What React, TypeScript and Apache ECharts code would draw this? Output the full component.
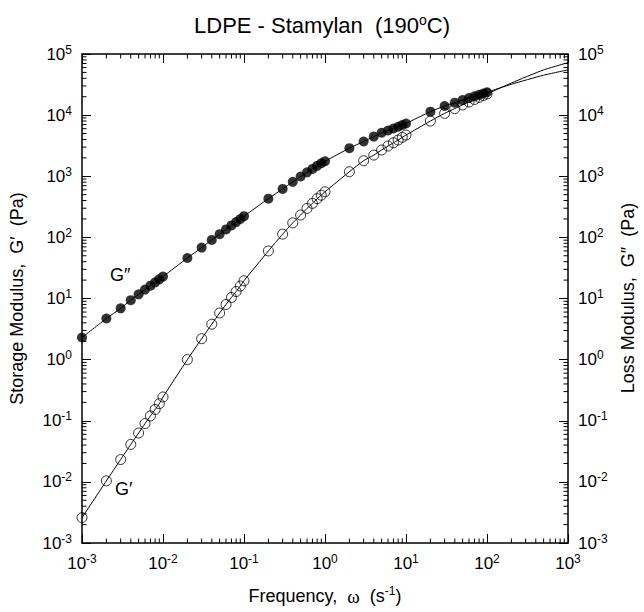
import React, { useEffect, useRef } from 'react';
import * as echarts from 'echarts';

// Frequency, rad/s
const freq = [
  0.001, 0.002, 0.003, 0.004, 0.005, 0.006, 0.007, 0.008, 0.009,
  0.01, 0.02, 0.03, 0.04, 0.05, 0.06, 0.07, 0.08, 0.09,
  0.1, 0.2, 0.3, 0.4, 0.5, 0.6, 0.7, 0.8, 0.9,
  1, 2, 3, 4, 5, 6, 7, 8, 9,
  10, 20, 30, 40, 50, 60, 70, 80, 90,
  100,
];
// Loss modulus G'' (Pa)
const gLoss = [
  2.3, 4.7, 6.9, 9.4, 11.7, 14, 16.2, 18.4, 20.6,
  22.8, 46, 68, 91, 113, 135, 157, 178, 200,
  222, 430, 620, 810, 990, 1160, 1320, 1480, 1630,
  1760, 2880, 3700, 4450, 5150, 5600, 6050, 6450, 6900,
  7300, 11400, 14100, 16000, 17600, 19000, 20300, 21500, 22600,
  23700,
];
// Storage modulus G' (Pa)
const gStor = [
  0.0026, 0.0104, 0.0232, 0.041, 0.063, 0.09, 0.12, 0.153, 0.19,
  0.245, 1.0, 2.2, 3.8, 5.8, 8.0, 10.4, 13, 16,
  19.5, 60, 113, 173, 232, 298, 360, 430, 490,
  557, 1185, 1795, 2220, 2690, 3120, 3530, 3910, 4330,
  4720, 8000, 10700, 12800, 14700, 16400, 18000, 19500, 20900,
  22200,
];
// model curve extension beyond the data
const extFreq = [200, 500, 1000];
const gStorExt = [33500, 55000, 72000];
const gLossExt = [32000, 45000, 55000];

const xTickExps = [-3, -2, -1, 0, 1, 2, 3];
const yTickExps = [-3, -2, -1, 0, 1, 2, 3, 4, 5];
const minorMult = [2, 3, 4, 5, 6, 7, 8, 9];

const FONT = 'Liberation Sans, Arial, sans-serif';

function minorValues(exps: number[]) {
  const out: number[] = [];
  for (let i = 0; i < exps.length - 1; i++) {
    for (const m of minorMult) out.push(m * Math.pow(10, exps[i]));
  }
  return out;
}

const powLabel = (v: number) => {
  const e = Math.round(Math.log10(v));
  return '{b|10}{s|' + e + '}';
};

const labelRich = {
  b: { fontSize: 17, fontFamily: FONT, color: '#000' },
  s: { fontSize: 12, fontFamily: FONT, color: '#000', padding: [0, 0, 9, 0] },
};

export default function App() {
  const ref = useRef<HTMLDivElement>(null);
  useEffect(() => {
    if (!ref.current) return;
    const chart = echarts.init(ref.current, undefined, { renderer: 'svg' });
    const xMinor = minorValues(xTickExps).map((v) => [v, 1]);
    const yMinor = minorValues(yTickExps).map((v) => [1, v]);
    const lineStyle = { color: '#000', width: 1 };
    const axisCommon = {
      type: 'log' as const,
      logBase: 10,
      axisLine: { show: true, lineStyle: { color: '#000', width: 1.5 } },
      axisTick: { show: true, inside: true, length: 9, lineStyle: { color: '#000', width: 1 } },
      splitLine: { show: false },
      minorTick: { show: false },
    };
    const nameFont = { fontSize: 18, fontFamily: FONT, color: '#000' };
    const option: any = {
      animation: false,
      backgroundColor: '#fff',
      title: {
        text: '{a|LDPE - Stamylan  (190}{s|o}{a|C)}',
        left: 'center',
        top: 8,
        textStyle: {
          rich: {
            a: { fontSize: 22, fontWeight: 'normal', fontFamily: FONT, color: '#000' },
            s: { fontSize: 14, fontWeight: 'normal', fontFamily: FONT, color: '#000', padding: [0, 0, 11, 0] },
          },
        },
      },
      grid: { left: 80, right: 76, top: 54, bottom: 69 },
      xAxis: [
        {
          ...axisCommon,
          position: 'bottom',
          min: 0.001,
          max: 1000,
          splitNumber: 6,
          axisLabel: { formatter: powLabel, rich: labelRich, margin: 10 },
          name: '{a|Frequency,  }{w|ω}{a|  (s}{s|-1}{a|)}',
          nameLocation: 'middle',
          nameGap: 42,
          nameTextStyle: {
            rich: {
              a: nameFont,
              w: { fontSize: 19, fontFamily: 'Liberation Serif, serif', color: '#000' },
              s: { fontSize: 12, fontFamily: FONT, color: '#000', padding: [0, 0, 10, 0] },
            },
          },
        },
        {
          ...axisCommon,
          position: 'top',
          min: 0.001,
          max: 1000,
          splitNumber: 6,
          axisLabel: { show: false },
        },
      ],
      yAxis: [
        {
          ...axisCommon,
          position: 'left',
          min: 0.001,
          max: 100000,
          splitNumber: 8,
          axisLabel: { formatter: powLabel, rich: labelRich, margin: 10 },
          name: 'Storage Modulus,  G′  (Pa)',
          nameLocation: 'middle',
          nameGap: 56,
          nameTextStyle: nameFont,
        },
        {
          ...axisCommon,
          position: 'right',
          min: 0.001,
          max: 100000,
          splitNumber: 8,
          axisLabel: { formatter: powLabel, rich: labelRich, margin: 10 },
        },
      ],
      graphic: [
        { type: 'text', left: 110, top: 266, style: { text: 'G″', fontSize: 18, fontFamily: FONT, fill: '#000' } },
        { type: 'text', left: 115, top: 480, style: { text: 'G′', fontSize: 18, fontFamily: FONT, fill: '#000' } },
        {
          type: 'text',
          x: 628,
          y: 298,
          rotation: Math.PI / 2,
          style: {
            text: 'Loss Modulus,  G″  (Pa)',
            fontSize: 18,
            fontFamily: FONT,
            fill: '#000',
            align: 'center',
            verticalAlign: 'middle',
          },
        },
      ],
      series: [
        {
          type: 'custom',
          silent: true,
          data: xMinor,
          renderItem: (params: any, api: any) => {
            const cs = params.coordSys;
            const px = api.coord([api.value(0), 1])[0];
            const b = cs.y + cs.height;
            const st = { stroke: '#000', lineWidth: 1 };
            return {
              type: 'group',
              children: [
                { type: 'line', shape: { x1: px, y1: b, x2: px, y2: b - 4.5 }, style: st },
                { type: 'line', shape: { x1: px, y1: cs.y, x2: px, y2: cs.y + 4.5 }, style: st },
              ],
            };
          },
          z: 1,
        },
        {
          type: 'custom',
          silent: true,
          data: yMinor,
          renderItem: (params: any, api: any) => {
            const cs = params.coordSys;
            const py = api.coord([1, api.value(1)])[1];
            const r = cs.x + cs.width;
            const st = { stroke: '#000', lineWidth: 1 };
            return {
              type: 'group',
              children: [
                { type: 'line', shape: { x1: cs.x, y1: py, x2: cs.x + 4.5, y2: py }, style: st },
                { type: 'line', shape: { x1: r, y1: py, x2: r - 4.5, y2: py }, style: st },
              ],
            };
          },
          z: 1,
        },
        {
          name: "G'' curve",
          type: 'line',
          smooth: 0.2,
          showSymbol: false,
          symbol: 'none',
          lineStyle,
          data: freq.map((f, i) => [f, gLoss[i]]).concat(extFreq.map((f, i) => [f, gLossExt[i]])),
          z: 2,
        },
        {
          name: "G' curve",
          type: 'line',
          smooth: 0.2,
          showSymbol: false,
          symbol: 'none',
          lineStyle,
          data: freq.map((f, i) => [f, gStor[i]]).concat(extFreq.map((f, i) => [f, gStorExt[i]])),
          z: 2,
        },
        {
          name: "G''",
          type: 'scatter',
          symbol: 'circle',
          symbolSize: 10,
          itemStyle: { color: '#000' },
          data: freq.map((f, i) => [f, gLoss[i]]),
          z: 3,
        },
        {
          name: "G'",
          type: 'scatter',
          symbol: 'circle',
          symbolSize: 10,
          itemStyle: { color: 'rgba(255,255,255,0)', borderColor: '#000', borderWidth: 1 },
          data: freq.map((f, i) => [f, gStor[i]]),
          z: 3,
        },
      ],
    };
    chart.setOption(option);
    return () => chart.dispose();
  }, []);
  return (
    <div
      ref={ref}
      style={{ position: 'fixed', left: 0, top: 0, width: 644, height: 612, background: '#fff' }}
    />
  );
}
